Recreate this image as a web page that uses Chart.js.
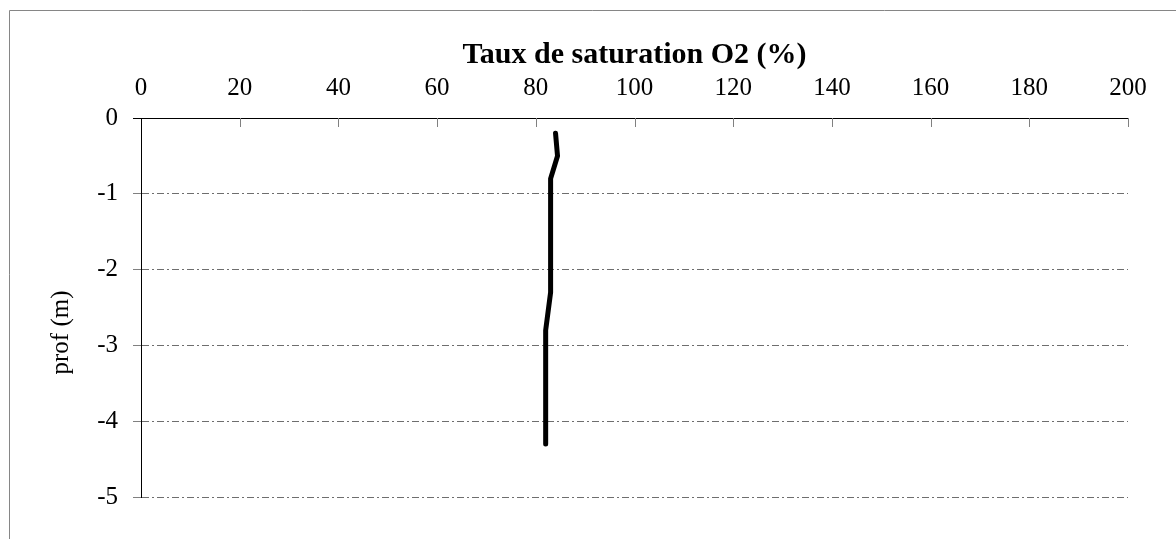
<!DOCTYPE html>
<html>
<head>
<meta charset="utf-8">
<script src="https://cdn.jsdelivr.net/npm/chart.js@4/dist/chart.umd.min.js"></script>
<style>
  html, body { margin: 0; padding: 0; background: #fff; }
  #cadre { position: relative; width: 1176px; height: 539px; }
</style>
</head>
<body>
<div id="cadre"><canvas id="myChart" width="1176" height="539"></canvas></div>
<script>
// profil vertical : saturation O2 (%) selon la profondeur (m)
const saturation = [84, 84.4, 83, 83, 82, 82];
const profondeur = [-0.2, -0.5, -0.8, -2.3, -2.8, -4.3];

const titreX = 'Taux de saturation O2 (%)';
const titreY = 'prof (m)';

const xMin = 0, xMax = 200, xPas = 20;
const yMin = -5, yMax = 0, yPas = 1;

const police = 'Liberation Serif, Times New Roman, serif';

// points {x,y} a partir des deux tableaux
const points = saturation.map((s, i) => ({ x: s, y: profondeur[i] }));

// cadre gris + petites graduations vers l'interieur sur l'axe du haut
const cadrePlugin = {
  id: 'cadre',
  beforeDraw(chart) {
    const ctx = chart.ctx;
    ctx.save();
    ctx.fillStyle = '#fff';
    ctx.fillRect(0, 0, chart.width, chart.height);
    ctx.strokeStyle = '#868686';
    ctx.lineWidth = 1;
    ctx.beginPath();
    ctx.moveTo(9.5, chart.height);
    ctx.lineTo(9.5, 10.5);
    ctx.lineTo(chart.width, 10.5);
    ctx.stroke();
    ctx.restore();
  },
  afterDraw(chart) {
    const ctx = chart.ctx;
    const sx = chart.scales.x;
    const haut = chart.chartArea.top;
    ctx.save();
    ctx.strokeStyle = '#808080';
    ctx.lineWidth = 1;
    sx.ticks.forEach((t) => {
      if (t.value === xMin) return;
      const px = Math.round(sx.getPixelForValue(t.value)) + 0.5;
      ctx.beginPath();
      ctx.moveTo(px, haut);
      ctx.lineTo(px, haut + 9);
      ctx.stroke();
    });
    ctx.restore();
  }
};

const config = {
  type: 'scatter',
  data: {
    datasets: [{
      label: 'O2',
      data: points,
      showLine: true,
      borderColor: '#000',
      borderWidth: 5,
      borderCapStyle: 'round',
      borderJoinStyle: 'round',
      pointRadius: 0,
      pointHoverRadius: 0,
      tension: 0
    }]
  },
  options: {
    responsive: false,
    animation: false,
    layout: { padding: { left: 0, top: 0, right: 48, bottom: 42 } },
    plugins: {
      legend: { display: false },
      tooltip: { enabled: false }
    },
    scales: {
      x: {
        type: 'linear',
        position: 'top',
        min: xMin,
        max: xMax,
        afterFit(scale) { scale.height = 118; },
        ticks: {
          stepSize: xPas,
          color: '#000',
          padding: 15,
          maxRotation: 0,
          font: { family: police, size: 25 }
        },
        grid: { display: true, drawOnChartArea: false, drawTicks: false },
        border: { display: true, color: '#000', width: 1 },
        title: {
          display: true,
          text: titreX,
          color: '#000',
          padding: { top: 37, bottom: 0 },
          font: { family: police, size: 30, weight: 'bold' }
        }
      },
      y: {
        type: 'linear',
        min: yMin,
        max: yMax,
        afterFit(scale) { scale.width = 141; },
        ticks: {
          stepSize: yPas,
          color: '#000',
          padding: 15,
          font: { family: police, size: 25 }
        },
        grid: {
          color: (c) => (c.tick && c.tick.value === 0 ? 'rgba(0,0,0,0)' : '#6e6e6e'),
          tickColor: (c) => (c.tick && c.tick.value === 0 ? '#000' : '#808080'),
          lineWidth: 1,
          tickLength: 8,
          tickBorderDash: []
        },
        // en v4 le pointille des lignes de grille se regle ici
        border: { display: true, color: '#000', width: 1, dash: [7, 3, 2, 3] },
        title: {
          display: true,
          text: titreY + '\u00a0\u00a0\u00a0\u00a0\u00a0\u00a0\u00a0\u00a0',
          color: '#000',
          padding: { top: 46, bottom: 0 },
          font: { family: police, size: 25 }
        }
      }
    }
  },
  plugins: [cadrePlugin]
};

let myChart = new Chart(document.getElementById('myChart'), config);
</script>
</body>
</html>
